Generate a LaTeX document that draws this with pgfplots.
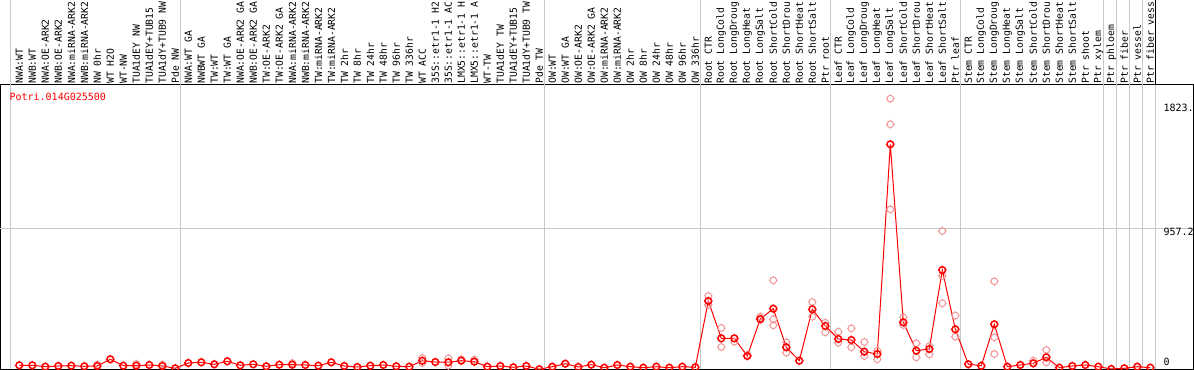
\documentclass[border=0pt]{standalone}
\usepackage{fontspec}
\usepackage{pgfplots}
\usepackage{pgfplotstable}
\pgfplotsset{compat=1.18}
\newfontfamily\mono{DejaVu Sans Mono}
\newcommand\lab{\mono\fontsize{7.3}{8}\selectfont}
\newcommand\vlab{\mono\fontsize{7.5}{8}\selectfont}
\definecolor{gridg}{RGB}{200,200,200}
\definecolor{fade}{RGB}{240,150,150}
\pgfdeclareplotmark{sun}{%
  \pgfpathcircle{\pgfpointorigin}{\pgfplotmarksize}%
  \pgfpathmoveto{\pgfpoint{0pt}{\pgfplotmarksize}}\pgfpathlineto{\pgfpoint{0pt}{1.3*\pgfplotmarksize}}%
  \pgfpathmoveto{\pgfpoint{0pt}{-\pgfplotmarksize}}\pgfpathlineto{\pgfpoint{0pt}{-1.3*\pgfplotmarksize}}%
  \pgfpathmoveto{\pgfpoint{\pgfplotmarksize}{0pt}}\pgfpathlineto{\pgfpoint{1.3*\pgfplotmarksize}{0pt}}%
  \pgfpathmoveto{\pgfpoint{-\pgfplotmarksize}{0pt}}\pgfpathlineto{\pgfpoint{-1.3*\pgfplotmarksize}{0pt}}%
  \pgfusepathqstroke}

\pgfplotstableread{
x y
0 27.2
1 27.2
2 17.7
3 22.5
4 24.5
5 20.4
6 22.5
7 68.1
8 24.5
9 24.5
10 29.3
11 22.5
12 6.8
13 42.9
14 47.6
15 34
16 54.5
17 27.2
18 34
19 20.4
20 31.3
21 31.3
22 29.3
23 24.5
24 47.6
25 22.5
26 15.7
27 24.5
28 29.3
29 20.4
30 17.7
31 58.5
32 49.7
33 47.6
34 58.5
35 51.7
36 17.7
37 22.5
38 13.6
39 22.5
40 0
41 17.7
42 38.1
43 15.7
44 31.3
45 10.9
46 29.3
47 17.7
48 10.9
49 17.7
50 10.9
51 17.7
52 13.6
53 464.9
54 211
55 211
56 90.5
57 342.4
58 412.5
59 149.8
60 58.5
61 408.4
62 294.7
63 206.3
64 199.4
65 119.8
66 104.1
67 1531.6
68 319.9
69 126.6
70 138.2
71 675.9
72 272.3
73 34.7
74 23.8
75 306.3
76 17.7
77 29.3
78 40.8
79 81.7
80 10.9
81 22.5
82 29.3
83 17.7
84 2
85 6.8
86 17.7
87 10.9
}\means

\pgfplotstableread{
x y
6 31.3
9 36.1
11 31.3
21 42.9
31 76.9
31 42.9
33 74.9
33 24.5
34 68.1
35 65.3
53 499
53 437.7
54 281.1
54 151.8
55 187.9
56 97.3
57 358
57 335.6
58 605.8
58 340.4
58 299.5
59 183.8
59 113
61 458.1
61 358
62 317.2
62 251.9
63 255.9
63 181.1
64 279.1
64 149.8
65 185.8
65 90.5
66 126.6
66 68.1
67 1842
67 1667.7
67 1089.1
68 354
68 301.5
69 177
69 81.7
70 158.6
70 102.1
71 941.4
71 635.1
71 449.3
72 366.2
72 221.9
75 599
75 217.8
75 104.1
78 58.5
79 131.4
79 47.6
}\reps

\begin{document}
\begin{tikzpicture}
\useasboundingbox (0,-0.525pt) rectangle (895.5pt,276.975pt);
\begin{axis}[
  at={(0,0)}, anchor=south west,
  scale only axis, width=894.75pt, height=213.225pt,
  xmin=-1.485, xmax=90.285, ymin=0, ymax=1935.2,
  clip=false,
  axis line style={black, line width=0.75pt},
  xtick={0,...,87},
  xticklabels={{NWA:WT},{NWB:WT},{NWA:OE-ARK2},{NWB:OE-ARK2},{NWA:miRNA-ARK2},{NWB:miRNA-ARK2},{NW 0hr},{WT H2O},{WT-NW},{TUA1dEY NW},{TUA1dEY+TUB15},{TUA1dY+TUB9 NW},{Pde NW},
    {NWA:WT GA},{NWBWT GA},{TW:WT},{TW:WT GA},{NWA:OE-ARK2 GA},{NWB:OE-ARK2 GA},{TW:OE-ARK2},{TW:OE-ARK2 GA},{NWA:miRNA-ARK2},{NWB:miRNA-ARK2},{TW:miRNA-ARK2},{TW:miRNA-ARK2},{TW 2hr},{TW 8hr},{TW 24hr},{TW 48hr},{TW 96hr},{TW 336hr},{WT ACC},{35S::etr1-1 H2},{35S::etr1-1 AC},{LMX5::etr1-1 H},{LMX5::etr1-1 A},{WT-TW},{TUA1dEY TW},{TUA1dEY+TUB15},{TUA1dY+TUB9 TW},{Pde TW},
    {OW:WT},{OW:WT GA},{OW:OE-ARK2},{OW:OE-ARK2 GA},{OW:miRNA-ARK2},{OW:miRNA-ARK2},{OW 2hr},{OW 8hr},{OW 24hr},{OW 48hr},{OW 96hr},{OW 336hr},
    {Root CTR},{Root LongCold},{Root LongDroug},{Root LongHeat},{Root LongSalt},{Root ShortCold},{Root ShortDrou},{Root ShortHeat},{Root ShortSalt},{Ptr root},
    {Leaf CTR},{Leaf LongCold},{Leaf LongDroug},{Leaf LongHeat},{Leaf LongSalt},{Leaf ShortCold},{Leaf ShortDrou},{Leaf ShortHeat},{Leaf ShortSalt},{Ptr leaf},
    {Stem CTR},{Stem LongCold},{Stem LongDroug},{Stem LongHeat},{Stem LongSalt},{Stem ShortCold},{Stem ShortDrou},{Stem ShortHeat},{Stem ShortSalt},{Ptr shoot},{Ptr xylem},
    {Ptr phloem},{Ptr fiber},{Ptr vessel},{Ptr fiber vess}},
  xticklabel pos=right,
  major tick length=0pt,
  xticklabel style={rotate=90, anchor=west, font=\lab, inner sep=0.8pt, text=black},
  ytick=\empty,
]
% grid lines
\draw[gridg, line width=0.75pt] (axis cs:-1.485,957.2) -- (axis cs:90.285,957.2);
\foreach \gx in {-0.65,12.4,40.4,52.4,62.4,72.4,83.4,84.4,85.4,86.4,87.4}{
  \edef\tmp{\noexpand\draw[gridg, line width=0.75pt] (axis cs:\gx,0) -- (axis cs:\gx,2514);}\tmp
}
\draw[black, line width=0.75pt] (axis cs:87.4,1935.2) -- (axis cs:87.4,2514);
\addplot[only marks, mark=sun, mark size=2.5pt, mark options={draw=fade, line width=0.75pt}] table[x=x,y=y] {\reps};
\addplot[red, line width=0.75pt, mark=sun, mark size=2.5pt, mark options={draw=red, line width=1.1pt}] table[x=x,y=y] {\means};
\end{axis}
\node[anchor=base west, inner sep=0pt, text=red, font=\vlab] at (7pt,201.45pt) {Potri.014G025500};
\node[anchor=base west, inner sep=0pt, font=\vlab] at (872.5pt,193.7pt) {1823.};
\node[anchor=base west, inner sep=0pt, font=\vlab] at (872.5pt,100pt) {957.2};
\node[anchor=base west, inner sep=0pt, font=\vlab] at (872.5pt,3pt) {0};
\end{tikzpicture}
\end{document}
